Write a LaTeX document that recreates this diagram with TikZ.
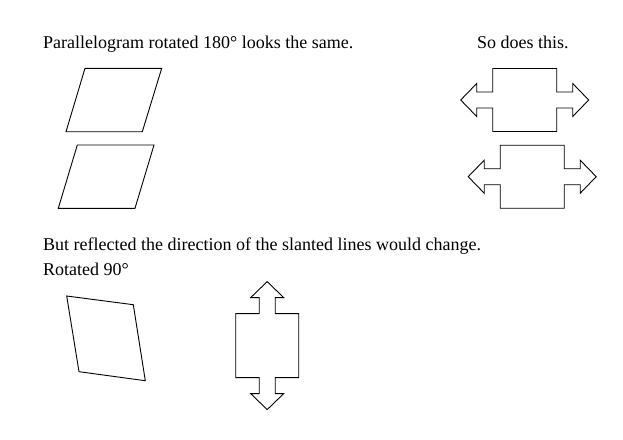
\documentclass[tikz,border=0pt]{standalone}
\usepackage{fontspec}
\setmainfont{Liberation Serif}
\tikzset{
  txt/.style={inner sep=0pt, anchor=base west, font=\fontsize{18}{24.3}\selectfont},
  outline/.style={draw=black, line width=0.9pt, line join=miter},
}
\newcommand\dblarrowpath{(-32,-31.5) -- (32,-31.5) -- (32,-8) -- (48,-8) -- (48,-16.5) -- (64,0) -- (48,16.5) -- (48,8) -- (32,8) -- (32,31.5) -- (-32,31.5) -- (-32,8) -- (-48,8) -- (-48,16.5) -- (-64,0) -- (-48,-16.5) -- (-48,-8) -- (-32,-8) -- cycle}
\begin{document}
\begin{tikzpicture}[x=1pt,y=-1pt]
\useasboundingbox (0,0) rectangle (623,439);
% texts
\node[txt] (t1) at (43,48.3) {Parallelogram rotated 180° looks the same.};
\node[txt] (t2) at (477,48.3) {So does this.};
\node[txt] (t3) at (43,250.7) {But reflected the direction of the slanted lines would change.};
\node[txt] (t4) at (43,275) {Rotated 90°};
% parallelograms
\draw[outline] (85,68.3) -- (161.7,68.3) -- (142.3,131.7) -- (66,131.7) -- cycle;
\draw[outline] (77.3,145) -- (154,145) -- (135,208.3) -- (58.3,208.3) -- cycle;
\draw[outline] (66.7,296) -- (133.3,304.7) -- (145.3,380.7) -- (79,371.7) -- cycle;
% double arrows
\begin{scope}[shift={(524.7,100)}]
\draw[outline] \dblarrowpath;
\end{scope}
\begin{scope}[shift={(532.2,176.7)}]
\draw[outline] \dblarrowpath;
\end{scope}
\begin{scope}[shift={(267.2,345.6)}, rotate=90]
\draw[outline] \dblarrowpath;
\end{scope}
\end{tikzpicture}
\end{document}
